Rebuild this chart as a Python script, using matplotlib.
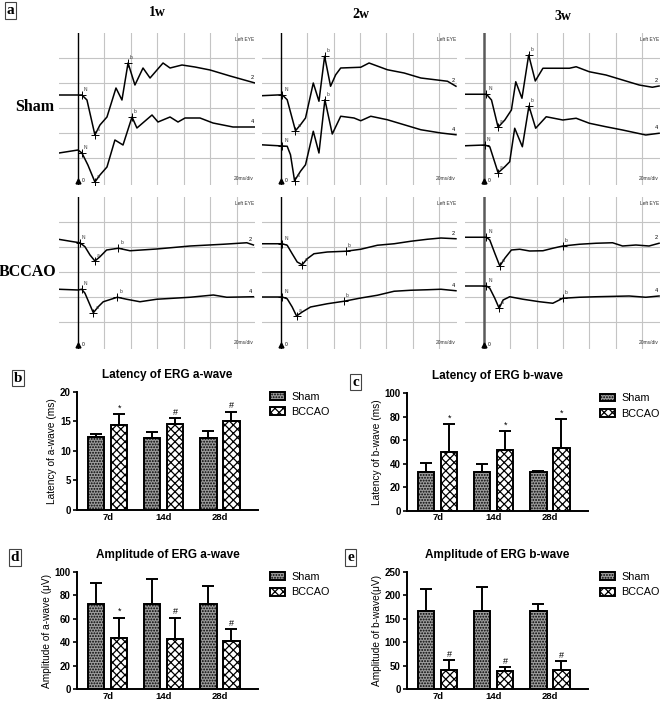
import numpy as np
import matplotlib
matplotlib.use("Agg")
import matplotlib.pyplot as plt

# ---- ERG traces (time ms, amplitude in grid divisions) ----
sham_1w_ch2 = [(-14.3, 2.52), (3.0, 2.52), (6.8, 2.32), (12.8, 0.92), (16.6, 1.32), (21.9, 1.64), (28.7, 2.8),
               (33.2, 2.32), (37.8, 3.8), (43.0, 2.92), (49.1, 3.6), (54.4, 3.2), (64.2, 3.8), (69.5, 3.6),
               (78.5, 3.72), (88.3, 3.64), (99.7, 3.52), (114.8, 3.28), (133.6, 3.0)]
sham_1w_ch4 = [(-14.3, 0.2), (0.0, 0.32), (3.0, 0.2), (7.5, -0.28), (12.8, -0.96), (16.6, -0.68), (21.9, -0.36),
               (27.9, 0.72), (34.0, 0.52), (40.8, 1.64), (44.5, 1.2), (55.9, 1.72), (60.4, 1.44), (69.5, 1.64),
               (75.5, 1.44), (80.8, 1.6), (92.1, 1.6), (101.9, 1.4), (117.0, 1.24), (133.6, 1.24)]
sham_2w_ch2 = [(-15.4, 2.49), (1.0, 2.53), (4.8, 2.33), (11.1, 1.09), (14.9, 1.33), (18.7, 1.6), (24.6, 3.0),
               (28.9, 2.27), (33.2, 4.07), (37.7, 2.87), (41.6, 3.33), (45.4, 3.6), (60.6, 3.63), (66.9, 3.8),
               (80.8, 3.53), (93.5, 3.4), (106.2, 3.2), (126.4, 3.07), (132.8, 2.87)]
sham_2w_ch4 = [(-15.4, 0.53), (4.8, 0.47), (7.3, 0.13), (10.4, -0.91), (14.9, -0.53), (18.7, -0.27), (24.6, 1.07),
               (28.9, 0.2), (33.4, 2.33), (39.0, 0.96), (45.4, 1.67), (55.5, 1.6), (60.6, 1.49), (68.2, 1.67),
               (80.8, 1.53), (93.5, 1.33), (106.2, 1.13), (121.4, 1.0), (132.8, 0.93)]
sham_3w_ch2 = [(-14.3, 2.55), (2.0, 2.55), (5.8, 2.32), (10.8, 1.23), (15.9, 1.52), (20.9, 1.92), (24.2, 3.05),
               (28.9, 2.39), (34.0, 4.12), (39.0, 3.08), (44.8, 3.59), (64.9, 3.59), (70.0, 3.65), (80.0, 3.45),
               (92.6, 3.32), (105.2, 3.12), (117.8, 2.92), (127.8, 2.83), (132.9, 2.88)]
sham_3w_ch4 = [(-14.3, 0.49), (0.75, 0.52), (4.5, 0.45), (10.8, -0.59), (15.9, -0.35), (19.6, -0.15), (23.4, 1.19),
               (29.2, 0.45), (34.2, 2.08), (39.3, 1.19), (47.3, 1.65), (59.9, 1.52), (70.0, 1.59), (80.0, 1.39),
               (92.6, 1.25), (105.2, 1.12), (122.8, 0.92), (132.9, 0.99)]
bccao_1w_ch2 = [(-14.8, 3.31), (-3.5, 3.21), (1.5, 3.17), (5.3, 3.01), (9.1, 2.68), (12.8, 2.44), (16.6, 2.61),
                (21.6, 2.88), (30.5, 2.95), (39.3, 2.85), (59.4, 2.92), (84.6, 3.04), (109.7, 3.11), (127.4, 3.17),
                (132.4, 3.08)]
bccao_1w_ch4 = [(-14.8, 1.31), (0.2, 1.28), (2.8, 1.31), (5.3, 1.15), (9.1, 0.68), (11.6, 0.37), (15.3, 0.61),
                (19.1, 0.81), (29.7, 0.99), (36.7, 0.91), (46.8, 0.81), (59.4, 0.91), (72.0, 0.95), (84.6, 0.99),
                (102.2, 1.08), (112.3, 0.99), (132.4, 1.01)]
bccao_2w_ch2 = [(-15.4, 3.13), (1.0, 3.13), (4.8, 3.07), (8.6, 2.73), (12.4, 2.4), (16.2, 2.29), (20.0, 2.53),
                (25.1, 2.73), (35.2, 2.8), (49.2, 2.83), (60.6, 2.91), (73.2, 3.07), (85.9, 3.13), (98.6, 3.23),
                (111.2, 3.31), (121.4, 3.36), (132.8, 3.33)]
bccao_2w_ch4 = [(-15.4, 1.0), (1.0, 1.0), (4.8, 0.93), (8.6, 0.6), (11.9, 0.24), (16.2, 0.4), (22.5, 0.6),
                (35.2, 0.73), (47.9, 0.83), (60.6, 0.96), (73.2, 1.07), (85.9, 1.23), (98.6, 1.27), (111.2, 1.29),
                (121.4, 1.31), (132.8, 1.25)]
bccao_3w_ch2 = [(-14.3, 3.39), (2.0, 3.39), (4.5, 3.28), (8.3, 2.75), (12.1, 2.24), (15.9, 2.55), (20.9, 2.88),
                (27.2, 2.91), (34.7, 2.84), (44.8, 2.85), (52.3, 2.95), (59.9, 3.04), (72.5, 3.11), (85.1, 3.15),
                (97.6, 3.17), (105.2, 3.04), (115.3, 3.08), (125.3, 3.04), (132.9, 3.15)]
bccao_3w_ch4 = [(-14.3, 1.44), (2.0, 1.44), (4.5, 1.35), (8.3, 0.95), (11.6, 0.55), (14.6, 0.88), (19.6, 1.01),
                (29.7, 0.91), (42.3, 0.81), (52.3, 0.75), (59.9, 0.95), (72.5, 0.99), (85.1, 1.01), (110.2, 1.04),
                (122.8, 0.99), (132.9, 1.04)]

# N / a / b marker times (ms) per trace
marks_sham = [((3.0, 12.8, 37.8), (3.0, 12.8, 40.8)),
              ((1.0, 11.1, 33.2), (1.0, 10.4, 33.4)),
              ((2.0, 10.8, 34.0), (0.75, 10.8, 34.2))]
marks_bccao = [((1.5, 12.8, 30.5), (2.8, 11.6, 29.7)),
               ((1.0, 16.2, 49.2), (1.0, 11.9, 47.9)),
               ((2.0, 12.1, 59.9), (2.0, 11.6, 59.9))]

# ---- bar chart data ----
days = ["7d", "14d", "28d"]
lat_a_sham, lat_a_sham_err = [12.3, 12.2, 12.2], [0.5, 1.0, 1.1]
lat_a_bcc, lat_a_bcc_err = [14.4, 14.5, 15.1], [1.8, 1.0, 1.5]
lat_a_sig = ["*", "#", "#"]
lat_b_sham, lat_b_sham_err = [33.0, 33.0, 32.7], [8.0, 7.0, 1.0]
lat_b_bcc, lat_b_bcc_err = [50.3, 51.5, 53.2], [23.3, 16.5, 24.7]
lat_b_sig = ["*", "*", "*"]
amp_a_sham, amp_a_sham_err = [73.0, 73.0, 73.0], [18.0, 21.0, 15.0]
amp_a_bcc, amp_a_bcc_err = [44.0, 42.5, 41.0], [17.0, 18.5, 10.0]
amp_a_sig = ["*", "#", "#"]
amp_b_sham, amp_b_sham_err = [166, 166, 166], [47, 52, 16]
amp_b_bcc, amp_b_bcc_err = [41, 38, 40], [21, 8, 19]
amp_b_sig = ["#", "#", "#"]

W, H = 660, 703
plt.rcParams["hatch.linewidth"] = 0.9
fig = plt.figure(figsize=(W / 100, H / 100), dpi=100)
SANS = "Liberation Sans"
SERIF = "Liberation Serif"


def rect(x0, x1, y0, y1):
    return [x0 / W, 1 - y1 / H, (x1 - x0) / W, (y1 - y0) / H]


def ftext(x, y, s, **kw):
    fig.text(x / W, 1 - y / H, s, ha="center", va="center", **kw)


cols = [(59, 255), (262, 457), (465, 660)]
rows = [(33, 185), (197, 349)]
traces = [[(sham_1w_ch2, sham_1w_ch4), (sham_2w_ch2, sham_2w_ch4), (sham_3w_ch2, sham_3w_ch4)],
          [(bccao_1w_ch2, bccao_1w_ch4), (bccao_2w_ch2, bccao_2w_ch4), (bccao_3w_ch2, bccao_3w_ch4)]]
marks = [marks_sham, marks_bccao]

for r, (y0, y1) in enumerate(rows):
    for c, (x0, x1) in enumerate(cols):
        ax = fig.add_axes(rect(x0, x1, y0, y1))
        ax.set_xlim(-14.3, 133.6)
        ax.set_ylim(-1.08, 5.0)
        ax.set_xticks(np.arange(20, 121, 20))
        ax.set_yticks(np.arange(0, 5))
        ax.grid(color="#c4c4c4", lw=0.8)
        ax.tick_params(length=0, labelbottom=False, labelleft=False)
        for s in ax.spines.values():
            s.set_visible(False)
        if c == 2:
            ax.axvline(0, color="#5a5a5a", lw=1.8)
        else:
            ax.axvline(0, color="k", lw=1.0)
        ax.plot([0], [-0.9], marker="^", ms=3.5, color="k", clip_on=False)
        ax.text(3, -0.9, "0", fontsize=3.5, va="center", family=SANS)
        ax.text(0.995, 0.975, "Left EYE", transform=ax.transAxes, ha="right", va="top",
                fontsize=3.5, color="#333", family=SANS)
        ax.text(0.995, 0.028, "20ms/div", transform=ax.transAxes, ha="right", va="bottom",
                fontsize=3.5, color="#333", family=SANS)
        for tr, mk, lab in zip(traces[r][c], marks[r][c], ["2", "4"]):
            t = np.array([p[0] for p in tr])
            v = np.array([p[1] for p in tr])
            ax.plot(t, v, color="k", lw=1.1)
            ax.text(t[-1] - 1, v[-1] + 0.12, lab, fontsize=4, ha="right", va="bottom", family=SANS)
            for mt, ml in zip(mk, ["N", "a", "b"]):
                mv = np.interp(mt, t, v)
                ax.plot([mt], [mv], marker="+", ms=6, mew=0.7, color="k")
                ax.annotate(ml, (mt, mv), xytext=(1.5, 3), textcoords="offset points",
                            fontsize=3.5, color="#333", family=SANS)

ftext(157.5, 13, "1w", fontsize=10, fontweight="bold", family=SERIF)
ftext(361, 15, "2w", fontsize=10, fontweight="bold", family=SERIF)
ftext(562.5, 16.5, "3w", fontsize=10, fontweight="bold", family=SERIF)
ftext(35, 107, "Sham", fontsize=11.5, fontweight="bold", family=SERIF)
ftext(28, 272, "BCCAO", fontsize=11.5, fontweight="bold", family=SERIF)

box = dict(boxstyle="square,pad=0.12", fc="white", ec="#444", lw=0.8)
for (x, y, s) in [(10.5, 10.5, "a"), (18, 378, "b"), (355.5, 382, "c"), (15, 557.5, "d"), (350.5, 557.5, "e")]:
    ftext(x, y, s, fontsize=11, fontweight="bold", family=SERIF, bbox=box)


def bars(pos, sham, sham_err, bcc, bcc_err, sig, ymax, step, ylabel, title):
    ax = fig.add_axes(rect(*pos))
    x = np.arange(len(days))
    ax.bar(x - 0.205, sham, 0.29, facecolor="#9c9c9c", edgecolor="k", hatch="......", lw=1.4, label="Sham")
    ax.bar(x + 0.205, bcc, 0.29, facecolor="white", edgecolor="k", hatch="xxxx", lw=1.4, label="BCCAO")
    ax.errorbar(x - 0.205, sham, yerr=[np.zeros(3), sham_err], fmt="none", ecolor="k",
                elinewidth=1.4, capsize=4, capthick=1.4)
    ax.errorbar(x + 0.205, bcc, yerr=[np.zeros(3), bcc_err], fmt="none", ecolor="k",
                elinewidth=1.4, capsize=4, capthick=1.4)
    for xi, top, m in zip(x + 0.205, np.add(bcc, bcc_err), sig):
        ax.text(xi, top + ymax * 0.012, m, ha="center", va="bottom", fontsize=6.5, family=SANS)
    ax.set_xlim(-0.55, 2.68)
    ax.set_ylim(0, ymax)
    ax.set_yticks(np.arange(0, ymax + 1, step))
    ax.set_xticks(x)
    ax.set_xticklabels(days, fontweight="bold")
    for s in ("top", "right"):
        ax.spines[s].set_visible(False)
    for s in ("left", "bottom"):
        ax.spines[s].set_linewidth(1.4)
    ax.tick_params(axis="y", labelsize=7, width=1.2, length=3, pad=1.5)
    ax.tick_params(axis="x", labelsize=6.8, length=0, pad=2)
    for lab in ax.get_yticklabels():
        lab.set_fontweight("bold")
    ax.set_ylabel(ylabel, fontsize=7.3, labelpad=2)
    ax.set_title(title, fontsize=8.5, fontweight="bold", pad=10)
    ax.legend(loc="upper left", bbox_to_anchor=(1.065, 1.0), frameon=False, fontsize=7.8,
              handlelength=1.4, handleheight=0.75, handletextpad=0.6, labelspacing=0.5,
              borderpad=0, borderaxespad=0)
    return ax


plt.rcParams["font.family"] = SANS
bars((77, 258, 391.7, 510), lat_a_sham, lat_a_sham_err, lat_a_bcc, lat_a_bcc_err, lat_a_sig,
     20, 5, "Latency of a-wave (ms)", "Latency of ERG a-wave")
bars((407, 588, 393.3, 510.7), lat_b_sham, lat_b_sham_err, lat_b_bcc, lat_b_bcc_err, lat_b_sig,
     100, 20, "Latency of b-wave (ms)", "Latency of ERG b-wave")
bars((77, 258, 572, 689), amp_a_sham, amp_a_sham_err, amp_a_bcc, amp_a_bcc_err, amp_a_sig,
     100, 20, "Amplitude of a-wave (μV)", "Amplitude of ERG a-wave")
bars((407, 588, 572, 689), amp_b_sham, amp_b_sham_err, amp_b_bcc, amp_b_bcc_err, amp_b_sig,
     250, 50, "Amplitude of b-wave(μV)", "Amplitude of ERG b-wave")

fig.savefig("out.png", dpi=100)
